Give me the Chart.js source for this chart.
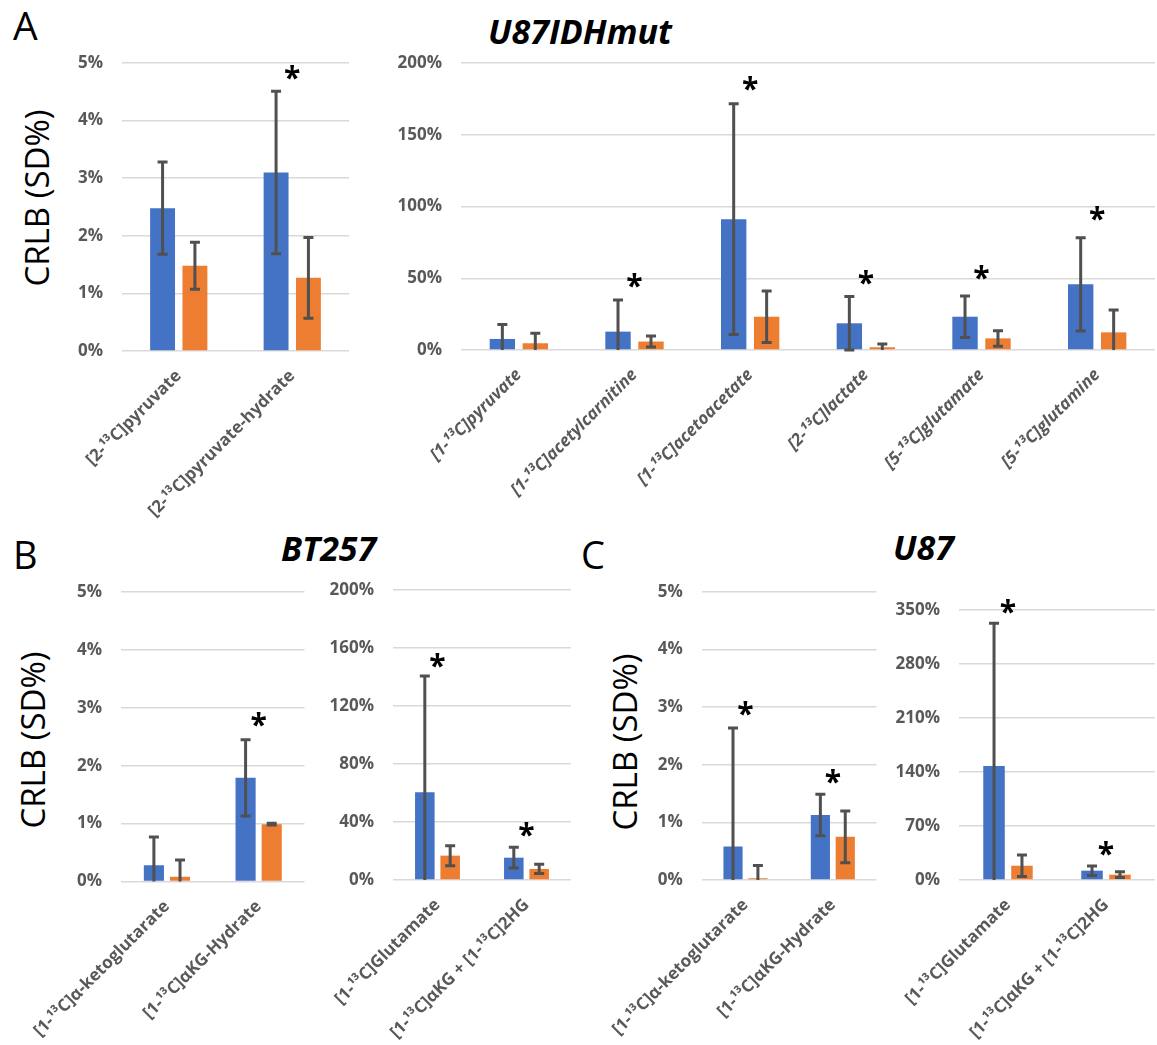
<!DOCTYPE html>
<html><head><meta charset="utf-8">
<script src="https://cdn.jsdelivr.net/npm/chart.js@4.4.1/dist/chart.umd.min.js"></script>
<style>
body{margin:0;background:#fff;}
#fig{position:relative;width:1157px;height:1045px;overflow:hidden;background:#fff;font-family:'Open Sans',sans-serif;}
.cv{position:absolute;}
.t{position:absolute;white-space:nowrap;line-height:1;color:#000;font-family:'Open Sans',sans-serif;}
.tt{font-weight:bold;font-style:italic;font-size:34px;}
.yt{position:absolute;white-space:nowrap;line-height:1;color:#000;font-family:'Open Sans',sans-serif;font-size:33px;transform:translate(-50%,-50%) rotate(-90deg);}
</style></head><body>
<div id="fig">
  <div class="t" style="left:13px;top:5px;font-size:39px;">A</div>
  <div class="t tt" style="left:488px;top:14px;">U87IDHmut</div>
  <div class="t" style="left:13px;top:535px;font-size:38px;">B</div>
  <div class="t tt" style="left:281px;top:531px;">BT257</div>
  <div class="t" style="left:581px;top:535px;font-size:38px;">C</div>
  <div class="t tt" style="left:893px;top:530px;">U87</div>
  <div class="yt" style="left:36px;top:198px;">CRLB (SD%)</div>
  <div class="yt" style="left:32px;top:740px;">CRLB (SD%)</div>
  <div class="yt" style="left:624px;top:742px;">CRLB (SD%)</div>
</div>
<script>
// ---------- DATA ----------
// Panel A, left
const catsA1 = ['[2-¹³C]pyruvate', '[2-¹³C]pyruvate-hydrate'];
const blueA1 = [2.48, 3.1];
const blueSdA1 = [0.8, 1.41];
const orangeA1 = [1.48, 1.27];
const orangeSdA1 = [0.41, 0.7];
const starA1 = [null, 4.84];
const ticksA1 = [0, 1, 2, 3, 4, 5];

// Panel A, right (U87IDHmut)
const catsA2 = ['[1-¹³C]pyruvate', '[1-¹³C]acetylcarnitine', '[1-¹³C]acetoacetate', '[2-¹³C]lactate', '[5-¹³C]glutamate', '[5-¹³C]glutamine'];
const blueA2 = [7.7, 12.8, 91.2, 18.6, 23.2, 45.8];
const blueSdA2 = [10, 22.1, 80.4, 18.6, 14.5, 32.5];
const orangeA2 = [4.7, 5.9, 23.2, 1.9, 8.1, 12.3];
const orangeSdA2 = [6.9, 3.8, 17.9, 2.3, 5.4, 15.6];
const starA2 = [null, 48.3, 185.6, 50.7, 54.2, 94.9];
const ticksA2 = [0, 50, 100, 150, 200];

// Panel B, left
const catsB1 = ['[1-¹³C]α-ketoglutarate', '[1-¹³C]αKG-Hydrate'];
const blueB1 = [0.28, 1.79];
const blueSdB1 = [0.49, 0.66];
const orangeB1 = [0.08, 0.99];
const orangeSdB1 = [0.29, 0.015];
const starB1 = [null, 2.79];
const ticksB1 = [0, 1, 2, 3, 4, 5];

// Panel B, right (BT257)
const catsB2 = ['[1-¹³C]Glutamate', '[1-¹³C]αKG + [1-¹³C]2HG'];
const blueB2 = [60.5, 15.4];
const blueSdB2 = [80.2, 7.2];
const orangeB2 = [16.8, 7.6];
const orangeSdB2 = [6.9, 3.2];
const starB2 = [151.7, 34.7];
const ticksB2 = [0, 40, 80, 120, 160, 200];

// Panel C, left
const catsC1 = ['[1-¹³C]α-ketoglutarate', '[1-¹³C]αKG-Hydrate'];
const blueC1 = [0.58, 1.13];
const blueSdC1 = [2.06, 0.36];
const orangeC1 = [0.03, 0.75];
const orangeSdC1 = [0.22, 0.45];
const starC1 = [2.98, 1.79];
const ticksC1 = [0, 1, 2, 3, 4, 5];

// Panel C, right (U87)
const catsC2 = ['[1-¹³C]Glutamate', '[1-¹³C]αKG + [1-¹³C]2HG'];
const blueC2 = [147.8, 12.1];
const blueSdC2 = [185, 6.2];
const orangeC2 = [18.5, 6.9];
const orangeSdC2 = [14, 3.7];
const starC2 = [354, 41];
const ticksC2 = [0, 70, 140, 210, 280, 350];

// ---------- DRAWING ----------
const fig = document.getElementById('fig');
const FONT = "'Open Sans', sans-serif";
const BLUE = '#4472C4', ORANGE = '#ED7D31', ERR = '#505050', GRID = '#d9d9d9', TICK = '#595959';

function makeChart(o) {
  const cv = document.createElement('canvas');
  cv.width = o.w; cv.height = o.h; cv.className = 'cv';
  cv.style.left = o.x + 'px'; cv.style.top = o.y + 'px';
  cv.style.width = o.w + 'px'; cv.style.height = o.h + 'px';
  fig.appendChild(cv);
  const yW = o.area[0] - o.x;
  const padR = o.x + o.w - o.area[2];
  const padT = o.area[1] - o.y;
  const xH = o.y + o.h - o.area[3];

  const extras = {
    id: 'extras',
    afterDatasetsDraw(chart) {
      const ctx = chart.ctx;
      const ys = chart.scales.y, xs = chart.scales.x;
      ctx.save();
      ctx.strokeStyle = ERR;
      ctx.lineWidth = 3;
      ctx.lineCap = 'butt';
      chart.data.datasets.forEach((ds, i) => {
        const meta = chart.getDatasetMeta(i);
        meta.data.forEach((el, j) => {
          const v = ds.data[j], sd = ds.sd[j];
          const x = el.x;
          const yt = ys.getPixelForValue(v + sd);
          const lowV = v - sd;
          const clipped = lowV < ys.min;
          const yb = ys.getPixelForValue(clipped ? ys.min : lowV);
          ctx.beginPath();
          ctx.moveTo(x, yt); ctx.lineTo(x, yb);
          ctx.moveTo(x - 5, yt); ctx.lineTo(x + 5, yt);
          if (!clipped) { ctx.moveTo(x - 5, yb); ctx.lineTo(x + 5, yb); }
          ctx.stroke();
        });
      });
      ctx.fillStyle = '#000';
      ctx.font = 'bold 30px ' + FONT;
      ctx.textAlign = 'center';
      ctx.textBaseline = 'alphabetic';
      const m = ctx.measureText('*');
      o.stars.forEach((s, j) => {
        if (s === null || s === undefined) return;
        const x = xs.getPixelForTick(j);
        const y = ys.getPixelForValue(s);
        const base = y + (m.actualBoundingBoxAscent - m.actualBoundingBoxDescent) / 2;
        ctx.fillText('*', x, base);
      });
      ctx.restore();
    }
  };

  return new Chart(cv, {
    type: 'bar',
    data: {
      labels: o.labels,
      datasets: [
        { data: o.blue, sd: o.blueSd, backgroundColor: BLUE, categoryPercentage: 0.57, barPercentage: 0.77 },
        { data: o.orange, sd: o.orangeSd, backgroundColor: ORANGE, categoryPercentage: 0.57, barPercentage: 0.77 }
      ]
    },
    options: {
      responsive: false,
      animation: false,
      devicePixelRatio: 1,
      layout: { padding: { left: 0, right: padR, top: padT, bottom: 0 } },
      plugins: { legend: { display: false }, tooltip: { enabled: false } },
      scales: {
        x: {
          grid: { display: false },
          border: { display: false },
          ticks: {
            autoSkip: false, minRotation: 45, maxRotation: 45, padding: 7,
            color: TICK,
            font: { family: FONT, size: 17, weight: 'bold', style: o.italic ? 'italic' : 'normal' }
          },
          afterFit: s => { s.height = xH; }
        },
        y: {
          min: o.ticks[0], max: o.ticks[o.ticks.length - 1],
          afterBuildTicks: s => { s.ticks = o.ticks.map(v => ({ value: v })); },
          grid: { color: GRID, lineWidth: 1.5, drawTicks: false },
          border: { display: false },
          ticks: {
            padding: 19, color: TICK,
            font: { family: FONT, size: 17, weight: 'bold' },
            callback: v => v + '%'
          },
          afterFit: s => { s.width = yW; }
        }
      }
    },
    plugins: [extras]
  });
}

makeChart({ x: 0, y: 0, w: 360, h: 520, area: [122, 63, 349, 351],
  labels: catsA1, blue: blueA1, blueSd: blueSdA1, orange: orangeA1, orangeSd: orangeSdA1, stars: starA1, ticks: ticksA1 });
makeChart({ x: 360, y: 0, w: 797, h: 520, area: [461, 63, 1155, 350], italic: true,
  labels: catsA2, blue: blueA2, blueSd: blueSdA2, orange: orangeA2, orangeSd: orangeSdA2, stars: starA2, ticks: ticksA2 });
makeChart({ x: 0, y: 500, w: 320, h: 545, area: [119, 592, 304.5, 881.5],
  labels: catsB1, blue: blueB1, blueSd: blueSdB1, orange: orangeB1, orangeSd: orangeSdB1, stars: starB1, ticks: ticksB1 });
makeChart({ x: 280, y: 500, w: 300, h: 545, area: [393, 590, 571, 880],
  labels: catsB2, blue: blueB2, blueSd: blueSdB2, orange: orangeB2, orangeSd: orangeSdB2, stars: starB2, ticks: ticksB2 });
makeChart({ x: 580, y: 500, w: 310, h: 545, area: [693, 592, 876.5, 880],
  labels: catsC1, blue: blueC1, blueSd: blueSdC1, orange: orangeC1, orangeSd: orangeSdC1, stars: starC1, ticks: ticksC1 });
makeChart({ x: 880, y: 500, w: 277, h: 545, area: [959, 610, 1155, 880],
  labels: catsC2, blue: blueC2, blueSd: blueSdC2, orange: orangeC2, orangeSd: orangeSdC2, stars: starC2, ticks: ticksC2 });
</script>
</body></html>
